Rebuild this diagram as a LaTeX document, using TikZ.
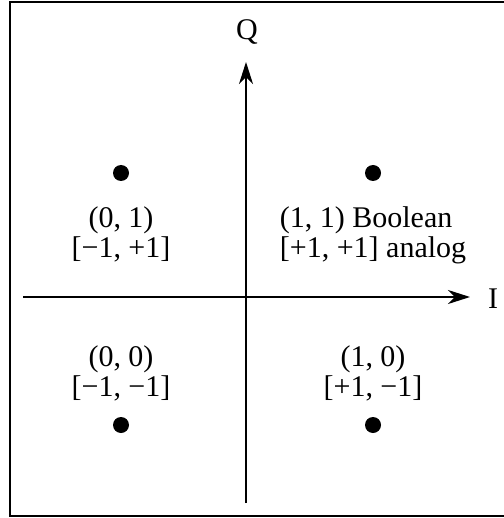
\documentclass[tikz,border=0pt]{standalone}
\usepackage{fontspec}
\setmainfont{Liberation Serif}
\usetikzlibrary{arrows.meta}

\begin{document}
\begin{tikzpicture}[
  x=1pt,y=-1pt,
  dot/.style={circle,fill=black,inner sep=0pt,minimum size=16pt},
  lbl/.style={font=\fontsize{30}{30}\selectfont,align=center,inner sep=0pt,anchor=base},
  axis/.style={line width=2.2pt,-{Stealth[length=22pt,width=14pt,inset=7pt]}}
]
\useasboundingbox (0,0) rectangle (503,518);
% frame
\draw[line width=2.5pt] (520,2) -- (10,2) -- (10,516) -- (520,516);

% axes
\coordinate (xs) at (23,297);
\coordinate (xe) at (470,297);
\coordinate (ys) at (246,503);
\coordinate (ye) at (246,62);
\draw[axis] (xs) -- (xe);
\draw[axis] (ys) -- (ye);
\node[lbl] (qlab) at (247,40) {Q};
\node[lbl] (ilab) at (493,308) {I};

% signal points
\node[dot] (p01) at (121,173) {};
\node[dot] (p11) at (373,173) {};
\node[dot] (p00) at (121,425) {};
\node[dot] (p10) at (373,425) {};

\node[lbl] (l01) at (121,257) {(0, 1)\\{}[−1, +1]};
\node[lbl,align=left] (l11) at (373,257) {(1, 1) Boolean\\{}[+1, +1] analog};
\node[lbl] (l00) at (121,396) {(0, 0)\\{}[−1, −1]};
\node[lbl] (l10) at (373,396) {(1, 0)\\{}[+1, −1]};
\end{tikzpicture}
\end{document}
